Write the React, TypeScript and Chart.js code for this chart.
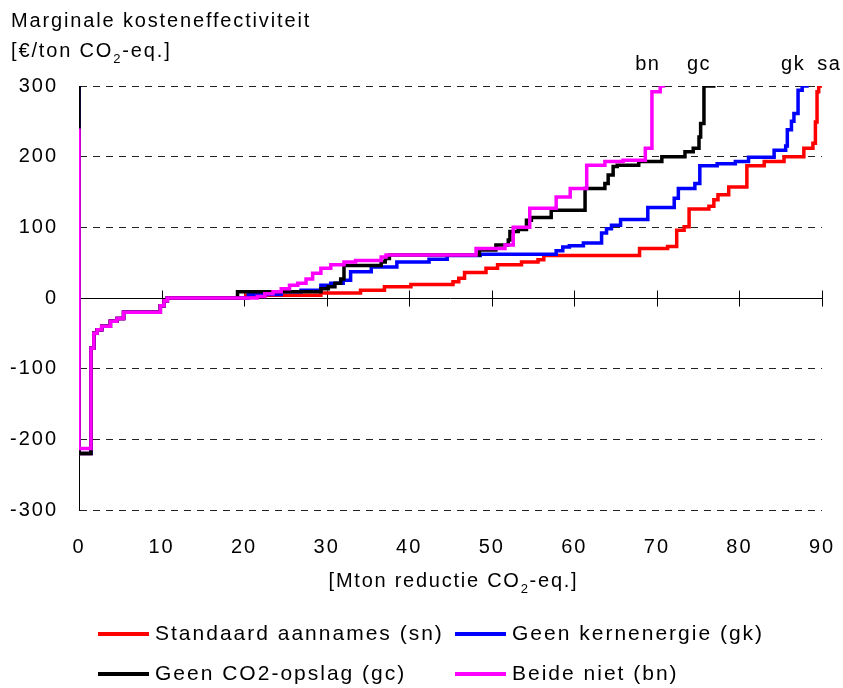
import React, { useEffect, useRef } from "react";
import { Chart, registerables } from "chart.js";

Chart.register(...registerables);

const FONT = '"Liberation Sans", Arial, Helvetica, sans-serif';

// ---- data (x = Mton reductie, y = €/ton) ----
const redX = [0, 0, 1.45, 1.8, 2.2, 2.75, 3.8, 4.6, 5.4, 9.85, 10.3, 10.7, 20.2, 29.3, 34.1, 37.0, 40.2, 45.3, 46.0, 46.7, 49.3, 50.7, 53.6, 55.6, 56.3, 67.9, 71.3, 72.4, 73.3, 73.9, 76.3, 76.9, 77.4, 78.7, 80.9, 83.0, 85.4, 87.8, 88.9, 89.2, 89.4, 89.6, 91];
const redY = [300, -220, -71, -50, -45, -40, -33, -29, -20, -11, -4, 0, 4, 7, 11, 16, 19, 23, 28, 36, 42, 47, 51, 54, 60, 70, 73, 96, 101, 126, 130, 139, 146, 157, 187, 193, 200, 212, 219, 249, 292, 300, 300];

const blueX = [0, 0, 1.45, 1.8, 2.2, 2.75, 3.8, 4.6, 5.4, 9.85, 10.3, 10.7, 20.5, 24.5, 26.9, 29.3, 30.5, 32.0, 32.9, 35.4, 38.5, 42.4, 44.6, 48.6, 57.8, 58.6, 59.4, 61.1, 63.3, 63.9, 64.5, 65.6, 68.9, 72.1, 72.6, 74.6, 75.2, 77.3, 79.5, 81.1, 84.2, 85.6, 85.8, 86.3, 86.6, 87.1, 87.6, 88.4];
const blueY = [300, -220, -71, -50, -45, -40, -33, -29, -20, -11, -4, 0, 5, 9, 11, 18, 21, 25, 37, 44, 51, 55, 60, 62, 67, 72, 74, 78, 92, 98, 103, 111, 128, 141, 155, 162, 187, 190, 193, 199, 209, 215, 238, 250, 261, 294, 300, 300];

const blackX = [0, 0, 1.45, 1.8, 2.2, 2.75, 3.8, 4.6, 5.4, 9.85, 10.3, 10.7, 19.2, 29.3, 30.2, 31.0, 31.7, 32.1, 36.6, 37.1, 37.6, 48.5, 50.5, 52.0, 52.2, 53.2, 54.2, 54.8, 57.2, 61.3, 63.7, 64.1, 64.7, 65.2, 67.8, 70.6, 73.4, 74.4, 75.1, 75.3, 75.7, 77.1];
const blackY = [300, -220, -71, -50, -45, -40, -33, -29, -20, -11, -4, 0, 9, 13, 16, 21, 27, 46, 51, 56, 61, 68, 75, 82, 94, 97, 110, 114, 124, 155, 162, 174, 186, 188, 193, 200, 207, 212, 228, 247, 300, 300];

const magentaX = [0, 0, 1.45, 1.8, 2.2, 2.75, 3.8, 4.6, 5.4, 9.85, 10.3, 10.7, 21.6, 22.5, 23.5, 24.5, 25.5, 26.5, 27.5, 28.3, 29.3, 30.5, 32.1, 33.5, 36.6, 37.2, 48.1, 51.6, 52.6, 54.6, 57.8, 59.5, 61.5, 63.7, 65.9, 68.6, 69.4, 70.4, 71.0];
const magentaY = [240, -213, -71, -50, -45, -40, -33, -29, -20, -11, -4, 0, 2, 6, 9, 13, 18, 21, 27, 35, 42, 47, 51, 53, 58, 61, 70, 75, 100, 127, 143, 155, 188, 193, 195, 212, 292, 300, 300];

const seriesLabels = ["Standaard aannames (sn)", "Geen kernenergie (gk)", "Geen CO2-opslag (gc)", "Beide niet (bn)"];
const seriesColors = ["#FF0000", "#0000FF", "#000000", "#FF00FF"];

const endLabels = ["bn", "gc", "gk", "sa"];
const endLabelX = [68.9, 75.1, 86.5, 90.9];

const yTitle1 = "Marginale kosteneffectiviteit";
const yTitle2: [string, boolean][] = [["[€/ton CO", false], ["2", true], ["-eq.]", false]];
const xTitle: [string, boolean][] = [["[Mton reductie CO", false], ["2", true], ["-eq.]", false]];

const X_MIN = 0, X_MAX = 90, X_STEP = 10;
const Y_MIN = -300, Y_MAX = 300, Y_STEP = 100;

function toPoints(xs: number[], ys: number[]) {
  return xs.map((x, i) => ({ x, y: ys[i] }));
}

function richWidth(ctx: CanvasRenderingContext2D, parts: [string, boolean][], size: number) {
  let w = 0;
  for (const [t, sub] of parts) {
    ctx.font = `${sub ? Math.round(size * 0.65) : size}px ${FONT}`;
    w += ctx.measureText(t).width;
  }
  return w;
}

function drawRich(ctx: CanvasRenderingContext2D, parts: [string, boolean][], x: number, y: number, size: number) {
  let cx = x;
  for (const [t, sub] of parts) {
    ctx.font = `${sub ? Math.round(size * 0.65) : size}px ${FONT}`;
    ctx.fillText(t, cx, sub ? y + size * 0.3 : y);
    cx += ctx.measureText(t).width;
  }
}

const decorPlugin = {
  id: "decor",
  beforeDraw(chart: any) {
    (chart.ctx as any).letterSpacing = "2px";
  },
  beforeDatasetsDraw(chart: any) {
    const { ctx, chartArea, scales } = chart;
    const xs = scales.x, ys = scales.y;
    const y0 = Math.round(ys.getPixelForValue(0)) + 0.5;
    ctx.save();
    ctx.strokeStyle = "#000";
    ctx.lineWidth = 1;
    ctx.setLineDash([]);
    ctx.beginPath();
    ctx.moveTo(chartArea.left, y0);
    ctx.lineTo(chartArea.right, y0);
    for (const t of xs.ticks) {
      const px = Math.round(xs.getPixelForValue(t.value)) + 0.5;
      ctx.moveTo(px, y0 - 8);
      ctx.lineTo(px, y0 + 8);
    }
    ctx.stroke();
    ctx.restore();
  },
  afterDraw(chart: any) {
    const { ctx, chartArea, scales } = chart;
    const xs = scales.x, ys = scales.y;
    ctx.save();
    ctx.fillStyle = "#000";
    ctx.textBaseline = "alphabetic";

    // y-axis title (two lines, top-left)
    (ctx as any).letterSpacing = "1.85px";
    ctx.textAlign = "left";
    ctx.font = `20px ${FONT}`;
    ctx.fillText(yTitle1, 11, 27);
    drawRich(ctx, yTitle2, 11, 57, 20);

    // x-axis title
    (ctx as any).letterSpacing = "1.75px";
    const w = richWidth(ctx, xTitle, 20);
    const mid = (chartArea.left + chartArea.right) / 2 + 3;
    drawRich(ctx, xTitle, mid - w / 2, 587, 20);

    // end labels above the curves
    (ctx as any).letterSpacing = "1.5px";
    ctx.font = `20px ${FONT}`;
    ctx.textAlign = "center";
    const topPx = ys.getPixelForValue(Y_MAX);
    endLabels.forEach((lab, i) => {
      ctx.fillText(lab, xs.getPixelForValue(endLabelX[i]), topPx - 16);
    });

    // legend (2 x 2)
    const cols = [98, 455];
    const rows = [634, 674];
    ctx.textAlign = "left";
    (ctx as any).letterSpacing = "2px";
    ctx.font = `21px ${FONT}`;
    seriesLabels.forEach((lab, i) => {
      const cx = cols[i % 2];
      const ry = rows[Math.floor(i / 2)];
      ctx.strokeStyle = seriesColors[i];
      ctx.lineWidth = 4;
      ctx.beginPath();
      ctx.moveTo(cx, ry);
      ctx.lineTo(cx + 51, ry);
      ctx.stroke();
      ctx.fillStyle = "#000";
      ctx.fillText(lab, cx + 57, ry + 6);
    });
    ctx.restore();
  },
};

export default function App() {
  const ref = useRef<HTMLCanvasElement | null>(null);

  useEffect(() => {
    if (!ref.current) return;
    const mk = (i: number, xs: number[], ys: number[]) => ({
      label: seriesLabels[i],
      data: toPoints(xs, ys),
      borderColor: seriesColors[i],
      backgroundColor: seriesColors[i],
      borderWidth: 3.5,
      pointRadius: 0,
      stepped: true,
      fill: false,
    });
    const chart = new Chart(ref.current, {
      type: "line",
      data: {
        datasets: [
          mk(3, magentaX, magentaY),
          mk(2, blackX, blackY),
          mk(1, blueX, blueY),
          mk(0, redX, redY),
        ],
      },
      options: {
        animation: false,
        responsive: false,
        devicePixelRatio: 1,
        layout: { padding: { top: 86, right: 21, bottom: 0, left: 0 } },
        plugins: {
          legend: { display: false },
          tooltip: { enabled: false },
          title: { display: false },
        },
        scales: {
          x: {
            type: "linear",
            position: "bottom",
            min: X_MIN,
            max: X_MAX,
            ticks: {
              stepSize: X_STEP,
              padding: 25,
              color: "#000",
              font: { family: FONT, size: 20 },
              maxRotation: 0,
            },
            grid: { display: false, drawTicks: false },
            border: { display: false },
            afterFit: (s: any) => {
              s.height = 178;
              s.paddingLeft = 0;
              s.paddingRight = 0;
            },
          },
          y: {
            type: "linear",
            min: Y_MIN,
            max: Y_MAX,
            ticks: {
              stepSize: Y_STEP,
              padding: 21,
              color: "#000",
              font: { family: FONT, size: 20 },
            },
            grid: {
              drawTicks: false,
              lineWidth: 1,
              color: (c: any) => (c.tick && c.tick.value === 0 ? "rgba(0,0,0,0)" : "#222"),
            },
            border: { display: true, color: "#000", width: 1, dash: [7, 6] },
            afterFit: (s: any) => {
              s.width = 79;
              s.paddingTop = 0;
              s.paddingBottom = 0;
            },
          },
        },
      } as any,
      plugins: [decorPlugin],
    });
    return () => chart.destroy();
  }, []);

  return (
    <div style={{ position: "absolute", left: 0, top: 0, width: 843, height: 688, background: "#fff" }}>
      <canvas ref={ref} width={843} height={688} style={{ display: "block" }} />
    </div>
  );
}
